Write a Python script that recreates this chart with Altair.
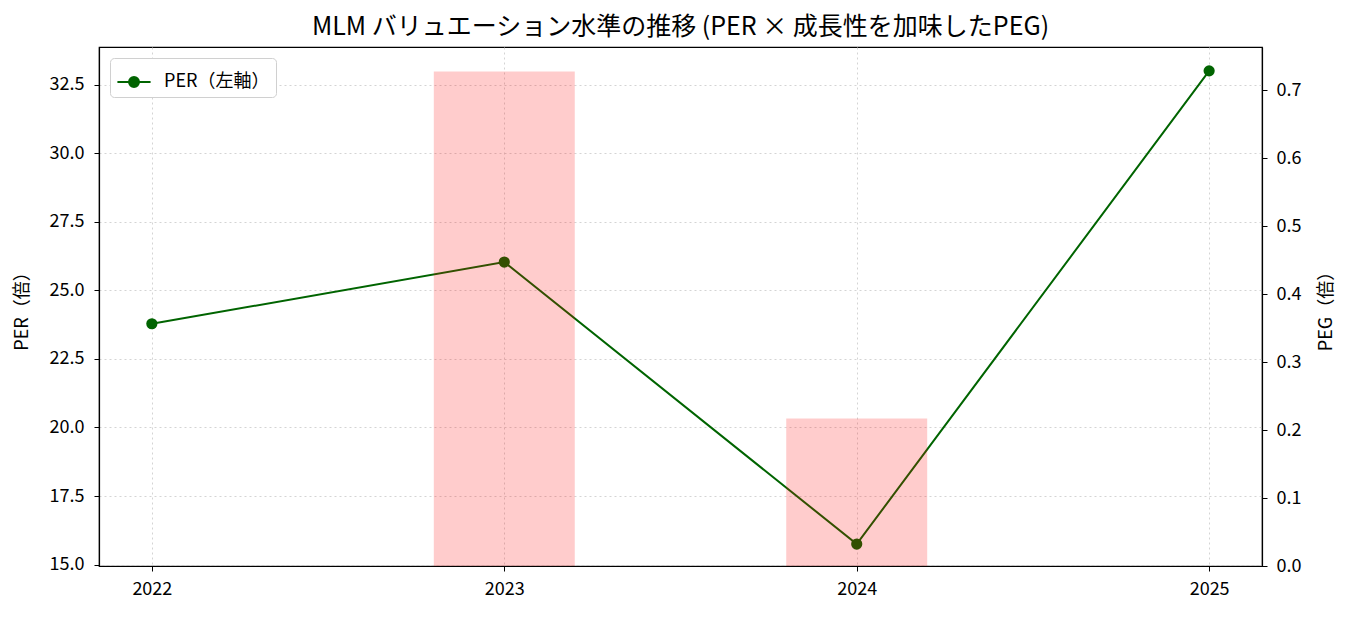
import altair as alt
import pandas as pd

years = [2022, 2023, 2024, 2025]
per = [23.78, 26.03, 15.75, 33.0]
peg = [None, 0.728, 0.217, None]

df = pd.DataFrame({"year": years, "PER": per, "PEG": peg})

FONT = "Noto Sans CJK JP"
GREEN = "#006400"
GRID = "#cfcfcf"
FS = 18
H = 519

x_scale = alt.Scale(domain=[2021.85, 2025.15], nice=False, zero=False)
x_axis = alt.Axis(values=years, format="d", title=None, grid=True, gridDash=[2, 3], gridWidth=0.9,
                  gridColor=GRID, labelFontSize=FS, labelFont=FONT, labelColor="black",
                  domainColor="black", tickColor="black", tickSize=5, labelPadding=9)

base = alt.Chart(df).transform_calculate(series="'PER（左軸）'")

line = base.mark_line(strokeWidth=2, point=alt.OverlayMarkDef(filled=True, size=125, opacity=1)).encode(
    x=alt.X("year:Q", scale=x_scale, axis=x_axis),
    y=alt.Y("PER:Q", scale=alt.Scale(domain=[14.95, 33.87], nice=False, zero=False),
            axis=alt.Axis(values=[15, 17.5, 20, 22.5, 25, 27.5, 30, 32.5], format=".1f",
                          title="PER（倍）", titleFontSize=FS, titleFont=FONT, titleFontWeight="normal",
                          titleColor="black", labelFontSize=FS, labelFont=FONT, labelColor="black",
                          grid=True, gridDash=[2, 3], gridWidth=0.9, gridColor=GRID,
                          domainColor="black", tickColor="black", tickSize=5,
                          titleAngle=270, titleX=-77, titleY=H / 2, titleAlign="center",
                          titleBaseline="middle", labelPadding=10)),
    color=alt.Color("series:N", scale=alt.Scale(range=[GREEN]),
                    legend=alt.Legend(title=None, orient="top-left", offset=11,
                                      labelFont=FONT, labelFontSize=FS, labelColor="black",
                                      symbolType="M-1,0L1,0M0.3,0A0.3,0.3,0,1,1,-0.3,0A0.3,0.3,0,1,1,0.3,0Z",
                                      symbolSize=1100, symbolStrokeWidth=2,
                                      symbolFillColor=GREEN, symbolStrokeColor=GREEN,
                                      strokeColor="#d0d0d0", fillColor="white", cornerRadius=4,
                                      padding=6, labelOffset=12)),
)

bars = alt.Chart(df).transform_filter("isValid(datum.PEG)").transform_calculate(
    x0="datum.year - 0.2", x1="datum.year + 0.2"
).mark_rect(color="red", opacity=0.2).encode(
    x=alt.X("x0:Q", scale=x_scale, axis=x_axis),
    x2="x1:Q",
    y=alt.Y("PEG:Q", scale=alt.Scale(domain=[0, 0.764], nice=False),
            axis=alt.Axis(orient="right", values=[0, 0.1, 0.2, 0.3, 0.4, 0.5, 0.6, 0.7], format=".1f",
                          title="PEG（倍）", titleFontSize=FS, titleFont=FONT, titleFontWeight="normal",
                          titleColor="black", labelFontSize=FS, labelFont=FONT, labelColor="black",
                          grid=False, domainColor="black", tickColor="black", tickSize=5,
                          titleAngle=270, titleX=64, titleY=H / 2, titleAlign="center",
                          titleBaseline="middle", labelPadding=9)),
    y2=alt.datum(0),
)

chart = alt.layer(line, bars).resolve_scale(y="independent").properties(
    width=1163, height=H,
    padding={"left": 99, "top": 47, "right": 89, "bottom": 51},
    autosize=alt.AutoSizeParams(type="none"),
    title=alt.TitleParams("MLM バリュエーション水準の推移 (PER × 成長性を加味したPEG)",
                          font=FONT, fontSize=25, fontWeight="normal", color="black",
                          anchor="middle", offset=7),
).configure_view(stroke="black", strokeWidth=1.2).configure_axis(domainWidth=1.2)

chart.save("out.html", embed_options={"renderer": "svg", "actions": False})
